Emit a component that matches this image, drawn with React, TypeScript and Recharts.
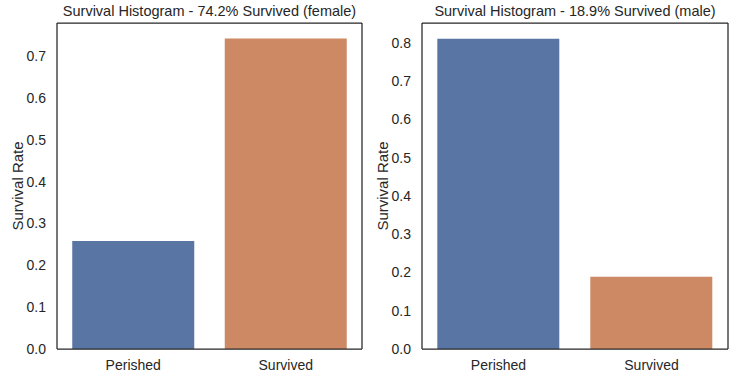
import React from 'react';
import { BarChart, Bar, XAxis, YAxis, Cell, Label } from 'recharts';

const categories = ['Perished', 'Survived'];
const femaleRates = [0.258, 0.742];
const maleRates = [0.811, 0.189];
const femaleTicks = [0, 0.1, 0.2, 0.3, 0.4, 0.5, 0.6, 0.7];
const maleTicks = [0, 0.1, 0.2, 0.3, 0.4, 0.5, 0.6, 0.7, 0.8];
const barColors = ['#5975a4', '#cc8963'];
const femaleTitle = 'Survival Histogram - 74.2% Survived (female)';
const maleTitle = 'Survival Histogram - 18.9% Survived (male)';
const yLabel = 'Survival Rate';

const FONT = '"Liberation Sans", Arial, sans-serif';
const INK = '#262626';
const TEXT = '#262626';

type PanelProps = {
  rates: number[];
  ticks: number[];
  yMax: number;
  title: string;
  width: number;
  left: number;
  yAxisWidth: number;
  rightMargin: number;
  labelX: number;
};

function Panel({ rates, ticks, yMax, title, width, left, yAxisWidth, rightMargin, labelX }: PanelProps) {
  const data = categories.map((c, i) => ({ cat: c, rate: rates[i] }));
  const plotLeft = yAxisWidth;
  const plotWidth = width - yAxisWidth - rightMargin;
  return (
    <div style={{ position: 'absolute', left, top: 0, width, height: 382 }}>
      <div
        style={{
          position: 'absolute',
          left: plotLeft,
          width: plotWidth,
          top: 3,
          textAlign: 'center',
          fontFamily: FONT,
          fontSize: 14.5,
          color: TEXT,
          whiteSpace: 'nowrap',
        }}
      >
        {title}
      </div>
      <BarChart
        width={width}
        height={382}
        data={data}
        margin={{ top: 22, right: rightMargin - 1, bottom: 0, left: 0 }}
        barCategoryGap="10%"
      >
        <XAxis
          dataKey="cat"
          type="category"
          height={33}
          tickLine={false}
          tickSize={0}
          tickMargin={11}
          axisLine={{ stroke: INK, strokeWidth: 1.25 }}
          tick={{ fill: TEXT, fontSize: 14, fontFamily: FONT }}
        />
        <XAxis
          xAxisId="top"
          dataKey="cat"
          type="category"
          orientation="top"
          height={1}
          tick={false}
          tickLine={false}
          axisLine={{ stroke: INK, strokeWidth: 1.25 }}
        />
        <YAxis
          type="number"
          domain={[0, yMax]}
          ticks={ticks}
          interval={0}
          width={yAxisWidth}
          tickLine={false}
          tickSize={0}
          tickMargin={11}
          tickFormatter={(v: number) => v.toFixed(1)}
          axisLine={{ stroke: INK, strokeWidth: 1.25 }}
          tick={{ fill: TEXT, fontSize: 14, fontFamily: FONT }}
        >
          <Label
            content={(props: any) => {
              const vb = props.viewBox || {};
              const cy = (vb.y || 0) + (vb.height || 0) / 2;
              return (
                <text
                  x={labelX}
                  y={cy}
                  transform={`rotate(-90, ${labelX}, ${cy})`}
                  textAnchor="middle"
                  dominantBaseline="central"
                  fill={TEXT}
                  fontSize={15}
                  fontFamily={FONT}
                >
                  {yLabel}
                </text>
              );
            }}
          />
        </YAxis>
        <YAxis
          yAxisId="right"
          type="number"
          orientation="right"
          domain={[0, yMax]}
          width={1}
          tick={false}
          tickLine={false}
          axisLine={{ stroke: INK, strokeWidth: 1.25 }}
        />
        <Bar dataKey="rate" isAnimationActive={false}>
          {data.map((d, i) => (
            <Cell key={d.cat} fill={barColors[i]} />
          ))}
        </Bar>
      </BarChart>
    </div>
  );
}

export default function App() {
  return (
    <div style={{ position: 'absolute', left: 0, top: 0, width: 741, height: 382, background: '#fff' }}>
      <Panel
        rates={femaleRates}
        ticks={femaleTicks}
        yMax={0.779}
        title={femaleTitle}
        width={370}
        left={0}
        yAxisWidth={57}
        rightMargin={8}
        labelX={17.5}
      />
      <Panel
        rates={maleRates}
        ticks={maleTicks}
        yMax={0.852}
        title={maleTitle}
        width={371}
        left={370}
        yAxisWidth={52}
        rightMargin={13}
        labelX={12.5}
      />
    </div>
  );
}
